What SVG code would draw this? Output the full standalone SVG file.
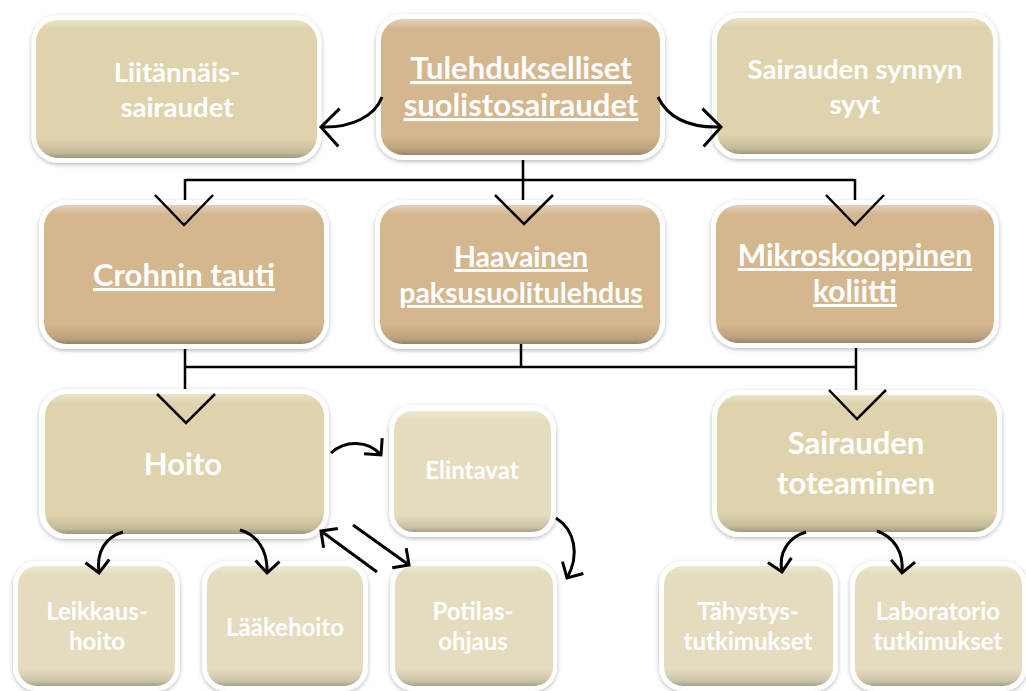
<svg xmlns="http://www.w3.org/2000/svg" width="1026" height="691" viewBox="0 0 1026 691">
<defs>
<filter id="sh" x="-10%" y="-10%" width="120%" height="125%">
<feDropShadow dx="0" dy="1.5" stdDeviation="2" flood-color="#000" flood-opacity="0.28"/>
</filter>
<linearGradient id="bevel" x1="0" y1="0" x2="0" y2="1">
<stop offset="0" stop-color="#fff" stop-opacity="0.35"/>
<stop offset="0.07" stop-color="#fff" stop-opacity="0"/>
<stop offset="0.86" stop-color="#000" stop-opacity="0"/>
<stop offset="0.96" stop-color="#000" stop-opacity="0.12"/>
<stop offset="1" stop-color="#000" stop-opacity="0.28"/>
</linearGradient>
<marker id="ahBig" viewBox="-21 -22 24 44" refX="0" refY="0" markerWidth="24" markerHeight="44" markerUnits="userSpaceOnUse" orient="auto">
<path d="M-18,-19 L0,0 L-18,19" fill="none" stroke="#000" stroke-width="3"/>
</marker>
<marker id="ahSmall" viewBox="-15 -15 18 30" refX="0" refY="0" markerWidth="18" markerHeight="30" markerUnits="userSpaceOnUse" orient="auto">
<path d="M-12,-12 L0,0 L-12,12" fill="none" stroke="#000" stroke-width="3"/>
</marker>
</defs>
<style>
.frame{fill:#fff;filter:url(#sh)}
.bev{fill:url(#bevel)}
.dark{fill:#d4b78f}
.mid{fill:#dfd3ad}
.light{fill:#e5dcbf}
text{font-family:Lato,"Liberation Sans",sans-serif;font-weight:bold;fill:#fff;text-anchor:middle}
.big{font-size:31px}
.b29{font-size:28.5px}
.b30{font-size:30px}
.med{font-size:27.5px}
.sm{font-size:24px}
.u{text-decoration:underline}
.conn{fill:none;stroke:#000;stroke-width:2.5}
.curve{fill:none;stroke:#000;stroke-width:3}
</style>
<rect width="1026" height="691" fill="#fff"/>

<g id="node-liitannais">
<rect class="frame" x="31.5" y="15" width="290" height="148" rx="27"/>
<rect class="mid" x="36" y="20" width="281" height="138" rx="22"/>
<rect class="bev" x="36" y="20" width="281" height="138" rx="22"/>
<text class="med" x="177" y="82">Liitännäis-</text>
<text class="med" x="177" y="117">sairaudet</text>
</g>

<g id="node-tulehdukselliset">
<rect class="frame" x="376" y="14" width="289" height="146" rx="27"/>
<rect class="dark" x="381" y="19" width="279" height="136" rx="22"/>
<rect class="bev" x="381" y="19" width="279" height="136" rx="22"/>
<text class="big u" x="521" y="79">Tulehdukselliset</text>
<text class="big u" x="521" y="116">suolistosairaudet</text>
</g>

<g id="node-synnyn-syyt">
<rect class="frame" x="712" y="13" width="286" height="146" rx="27"/>
<rect class="mid" x="717" y="18" width="276" height="136" rx="22"/>
<rect class="bev" x="717" y="18" width="276" height="136" rx="22"/>
<text class="med" x="855" y="79">Sairauden synnyn</text>
<text class="med" x="855" y="114">syyt</text>
</g>

<g id="node-crohn">
<rect class="frame" x="39" y="200" width="290" height="149" rx="27"/>
<rect class="dark" x="44" y="205" width="280" height="139" rx="22"/>
<rect class="bev" x="44" y="205" width="280" height="139" rx="22"/>
<text class="big u" x="184" y="286">Crohnin tauti</text>
</g>

<g id="node-haavainen">
<rect class="frame" x="375" y="200" width="290" height="149" rx="27"/>
<rect class="dark" x="380" y="205" width="280" height="139" rx="22"/>
<rect class="bev" x="380" y="205" width="280" height="139" rx="22"/>
<text class="b29 u" x="521" y="267">Haavainen</text>
<text class="b29 u" x="521" y="303">paksusuolitulehdus</text>
</g>

<g id="node-mikroskooppinen">
<rect class="frame" x="711" y="200" width="288" height="148" rx="27"/>
<rect class="dark" x="716" y="205" width="278" height="138" rx="22"/>
<rect class="bev" x="716" y="205" width="278" height="138" rx="22"/>
<text class="b30 u" x="855" y="266">Mikroskooppinen</text>
<text class="b30 u" x="855" y="302">koliitti</text>
</g>

<g id="node-hoito">
<rect class="frame" x="39" y="389" width="290" height="150" rx="27"/>
<rect class="mid" x="45" y="394" width="279" height="140" rx="22"/>
<rect class="bev" x="45" y="394" width="279" height="140" rx="22"/>
<text class="big" x="183" y="475">Hoito</text>
</g>

<g id="node-elintavat">
<rect class="frame" x="389" y="405" width="167" height="132" rx="24"/>
<rect class="light" x="394" y="411" width="157" height="121" rx="19"/>
<rect class="bev" x="394" y="411" width="157" height="121" rx="19"/>
<text class="sm" x="472" y="479">Elintavat</text>
</g>

<g id="node-toteaminen">
<rect class="frame" x="712" y="390" width="290" height="147" rx="27"/>
<rect class="mid" x="717" y="395" width="280" height="137" rx="22"/>
<rect class="bev" x="717" y="395" width="280" height="137" rx="22"/>
<text class="big" x="856" y="454">Sairauden</text>
<text class="big" x="856" y="494">toteaminen</text>
</g>

<g id="node-leikkaushoito">
<rect class="frame" x="13" y="561" width="167" height="130" rx="24"/>
<rect class="light" x="18" y="566" width="157" height="120" rx="19"/>
<rect class="bev" x="18" y="566" width="157" height="120" rx="19"/>
<text class="sm" x="97" y="620">Leikkaus-</text>
<text class="sm" x="97" y="650">hoito</text>
</g>

<g id="node-laakehoito">
<rect class="frame" x="202" y="561" width="166" height="130" rx="24"/>
<rect class="light" x="207" y="566" width="156" height="120" rx="19"/>
<rect class="bev" x="207" y="566" width="156" height="120" rx="19"/>
<text class="sm" x="285" y="636">Lääkehoito</text>
</g>

<g id="node-potilasohjaus">
<rect class="frame" x="390" y="561" width="167" height="130" rx="24"/>
<rect class="light" x="395" y="566" width="158" height="120" rx="19"/>
<rect class="bev" x="395" y="566" width="158" height="120" rx="19"/>
<text class="sm" x="473" y="620">Potilas-</text>
<text class="sm" x="473" y="650">ohjaus</text>
</g>

<g id="node-tahystys">
<rect class="frame" x="659" y="561" width="179" height="130" rx="24"/>
<rect class="light" x="664" y="566" width="169" height="120" rx="19"/>
<rect class="bev" x="664" y="566" width="169" height="120" rx="19"/>
<text class="sm" x="748" y="620">Tähystys-</text>
<text class="sm" x="748" y="650">tutkimukset</text>
</g>

<g id="node-laboratorio">
<rect class="frame" x="850" y="561" width="177" height="130" rx="24"/>
<rect class="light" x="855" y="566" width="167" height="120" rx="19"/>
<rect class="bev" x="855" y="566" width="167" height="120" rx="19"/>
<text class="sm" x="938" y="620">Laboratorio</text>
<text class="sm" x="938" y="650">tutkimukset</text>
</g>

<g id="connectors">
<path class="curve" d="M382,97 C375,116 352,128 321,127" marker-end="url(#ahBig)"/>
<path class="curve" d="M658,97 C668,118 690,128 721,127" marker-end="url(#ahBig)"/>
<path class="conn" d="M523,160 V200 M185,180 H855 M185,179 V200 M855,179 V200"/>
<path class="conn" d="M155,195 L184,225 L213,195 M495,195 L524,224 L553,195 M826,195 L855,225 L884,195"/>
<path class="conn" d="M185,349 V389 M185,367 H856 M521,344 V367 M856,348 V390"/>
<path class="conn" d="M157,394 L186,423 L215,394 M829,390 L857,419 L886,390"/>
<path class="curve" d="M331,453 C345,440 368,440 381,455" marker-end="url(#ahSmall)"/>
<path class="curve" d="M556,518 C575,530 580,555 567,578" marker-end="url(#ahSmall)"/>
<path class="curve" d="M377,572 L321,531" marker-end="url(#ahSmall)"/>
<path class="curve" d="M353,525 L409,565" marker-end="url(#ahSmall)"/>
<path class="curve" d="M123,532 C106,537 96,551 99,573" marker-end="url(#ahSmall)"/>
<path class="curve" d="M240,530 C257,535 268,550 267,573" marker-end="url(#ahSmall)"/>
<path class="curve" d="M806,532 C789,537 778,552 782,572" marker-end="url(#ahSmall)"/>
<path class="curve" d="M877,531 C894,537 904,552 902,573" marker-end="url(#ahSmall)"/>
</g>
</svg>
